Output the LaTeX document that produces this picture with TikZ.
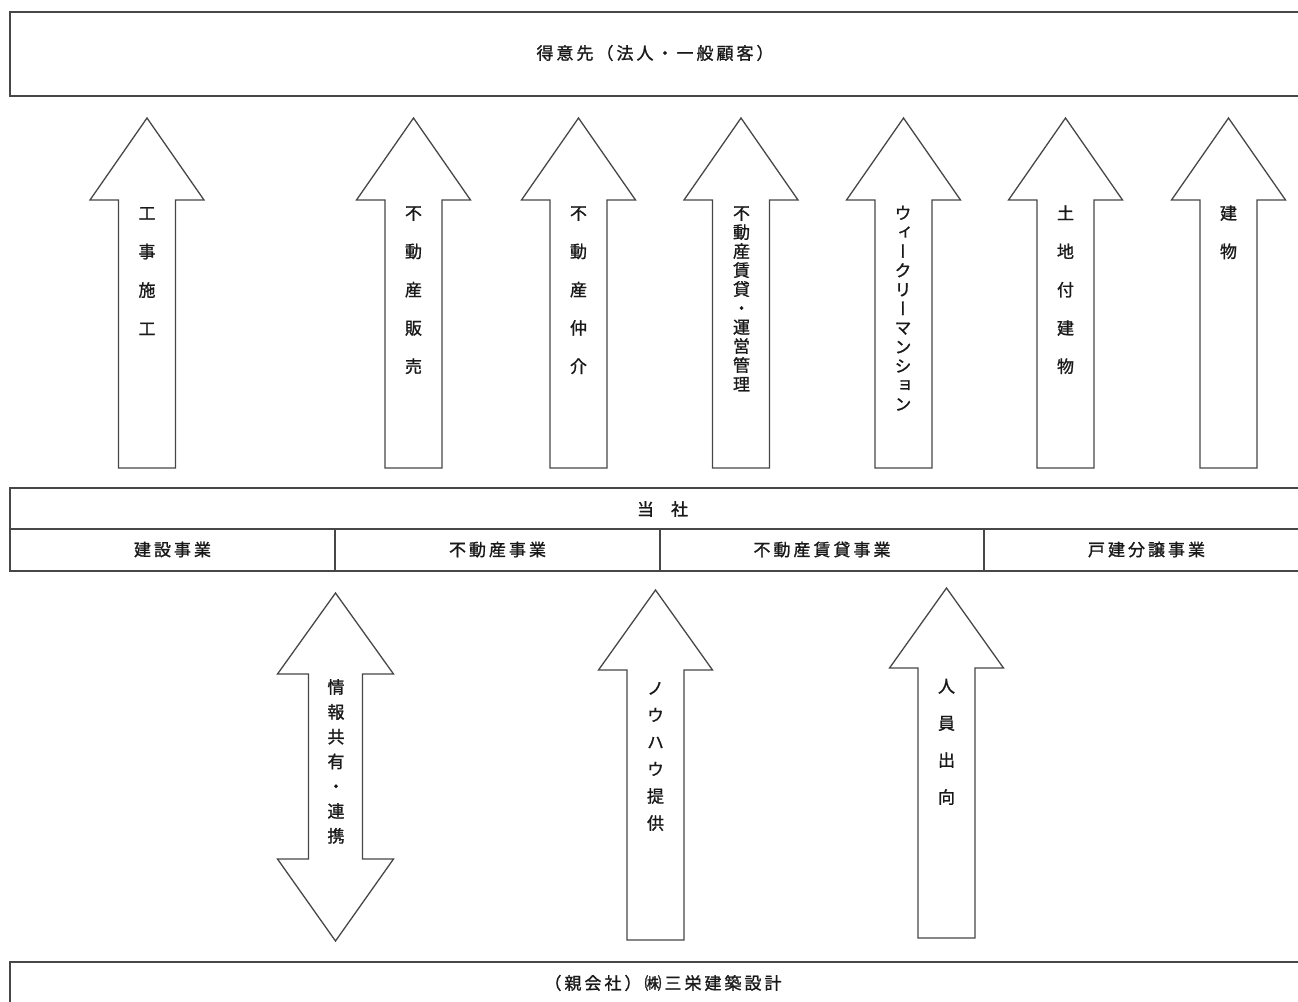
\documentclass[tikz,border=0pt]{standalone}
\usepackage{fontspec}
\newfontfamily\jp[FakeBold=1.2]{Noto Sans CJK JP}
\newfontfamily\jpv[RawFeature={+vert},FakeBold=1.2]{Noto Sans CJK JP}
\ExplSyntaxOn
\NewDocumentCommand\spc{m}{\tl_map_inline:nn{#1}{##1\kern3pt}\unkern}
\ExplSyntaxOff
\tikzset{
  frame/.style={draw=black!72, line width=1.3pt},
  blockarrow/.style={draw=black!72, line width=1.3pt, fill=white, line join=miter},
  htext/.style={font=\jp\fontsize{17}{20}\selectfont, inner sep=0pt, text=black!90},
  vch/.style={font=\jpv\fontsize{17}{20}\selectfont, inner sep=0pt, text height=15pt, text depth=2pt, text=black!90},
}
% up block arrow: cx, tip y, head-base y, bottom y
\newcommand\uparr[4]{%
  \draw[blockarrow] (#1,#2) -- ({#1+57},#3) -- ({#1+28.5},#3) -- ({#1+28.5},#4)
    -- ({#1-28.5},#4) -- ({#1-28.5},#3) -- ({#1-57},#3) -- cycle;}
% vertical label: name, x, first y, step, chars
\newcommand\vlabel[5]{%
  \foreach \c [count=\i] in {#5} {\node[vch] (#1-\i) at (#2,{#3+(\i-1)*#4}) {\c};}}
\begin{document}
\begin{tikzpicture}[x=1pt,y=-1pt]
\useasboundingbox (0,0) rectangle (1298,1001);
\clip (0,0) rectangle (1298,1001);

% top box
\draw[frame] (10,12) rectangle (1312,96);
\node[htext] (client) at (655,53) {\spc{得意先（法人・一般顧客）}};

% up arrows
\uparr{147}{118}{200}{468}
\uparr{413.5}{118}{200}{468}
\uparr{578.5}{118}{200}{468}
\uparr{741}{118}{200}{468}
\uparr{903.5}{118}{200}{468}
\uparr{1065.5}{118}{200}{468}
\uparr{1228.5}{118}{200}{468}

\vlabel{a1}{147}{213}{38.5}{工,事,施,工}
\vlabel{a2}{413.5}{213}{38.3}{不,動,産,販,売}
\vlabel{a3}{578.5}{213}{38.3}{不,動,産,仲,介}
\vlabel{a4}{741.5}{213}{19}{不,動,産,賃,貸,・,運,営,管,理}
\vlabel{a5}{903}{213}{19.1}{ウ,ィ,ー,ク,リ,ー,マ,ン,シ,ョ,ン}
\vlabel{a6}{1065.5}{213}{38.3}{土,地,付,建,物}
\vlabel{a7}{1228.5}{213}{38.3}{建,物}

% middle box
\draw[frame] (10,488) rectangle (1312,571);
\draw[frame] (10,529) -- (1312,529);
\draw[frame] (335,529) -- (335,571);
\draw[frame] (660,529) -- (660,571);
\draw[frame] (984,529) -- (984,571);
\node[htext] (self) at (662.5,509) {当　社};
\node[htext] (seg1) at (172.5,549.5) {\spc{建設事業}};
\node[htext] (seg2) at (497.5,549.5) {\spc{不動産事業}};
\node[htext] (seg3) at (822,549.5) {\spc{不動産賃貸事業}};
\node[htext] (seg4) at (1146.5,549.5) {\spc{戸建分譲事業}};

% double arrow
\draw[blockarrow] (335.5,593) -- (393.5,674) -- (362.5,674) -- (362.5,859) -- (393.5,859)
  -- (335.5,941) -- (277.5,859) -- (308.5,859) -- (308.5,674) -- (277.5,674) -- cycle;
\uparr{655.5}{590}{670}{940}
\uparr{946.5}{588}{668}{938}

\vlabel{b1}{336}{687}{24.8}{情,報,共,有,・,連,携}
\vlabel{b2}{655.5}{688}{27}{ノ,ウ,ハ,ウ,提,供}
\vlabel{b3}{946.5}{686}{37}{人,員,出,向}

% bottom box
\draw[frame] (10,962) rectangle (1312,1015);
\node[htext] (parent) at (663,983) {\spc{（親会社）㈱三栄建築設計}};
\end{tikzpicture}
\end{document}
